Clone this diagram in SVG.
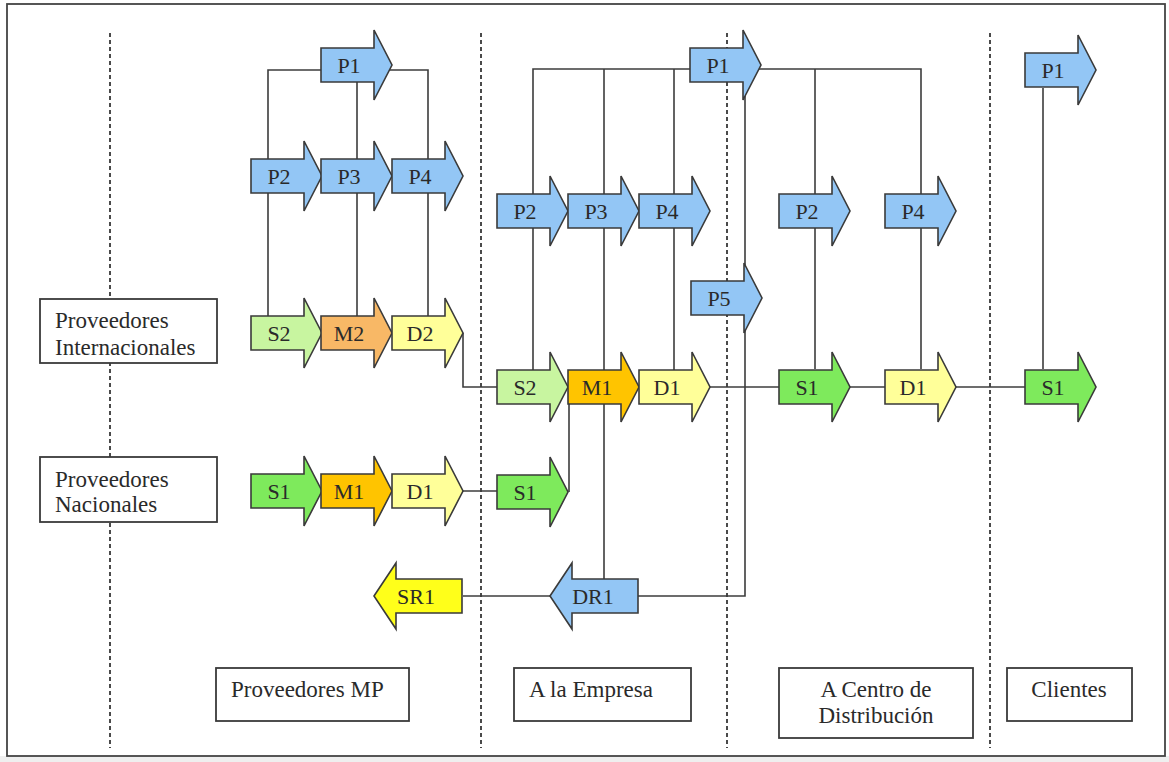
<svg xmlns="http://www.w3.org/2000/svg" xmlns:xlink="http://www.w3.org/1999/xlink" width="1169" height="762" viewBox="0 0 1169 762">
  <style>
    .lane { stroke: #4a4a4a; stroke-width: 2; stroke-dasharray: 4 3; fill: none; }
    .wire { stroke: #3c3c3c; stroke-width: 1.6; fill: none; }
    .shape { stroke: #3a3a3a; stroke-width: 1.6; stroke-linejoin: miter; }
    .blue { fill: #93c6f5; }
    .pale { fill: #c8f5a0; }
    .green { fill: #7eea5c; }
    .orange { fill: #f8b866; }
    .gold { fill: #ffc400; }
    .cream { fill: #ffff99; }
    .yellow { fill: #ffff1a; }
    .lbl { font-family: "Liberation Serif", "DejaVu Serif", serif; font-size: 22px; fill: #2a2a2a; text-anchor: middle; }
    .box { fill: #ffffff; stroke: #3a3a3a; stroke-width: 1.8; }
    .cap { font-family: "Liberation Serif", "DejaVu Serif", serif; font-size: 23px; fill: #2a2a2a; }
  </style>
  <defs>
    <!-- right-pointing block arrow, origin at body left / vertical centre -->
    <path id="ar" class="shape" d="M0,-17 H53 V-35 L71,0 L53,35 V17 H0 Z"/>
    <!-- left-pointing block arrow, origin at tip -->
    <path id="al" class="shape" d="M0,0 L22,-33 V-17 H88 V17 H22 V33 Z"/>
  </defs>

  <!-- frame -->
  <rect x="0" y="0" width="1169" height="762" fill="#ffffff"/>
  <rect x="0" y="756" width="1169" height="6" fill="#efefef"/>
  <rect x="7" y="4" width="1158" height="752" fill="none" stroke="#444" stroke-width="1.8"/>

  <!-- swimlane separators -->
  <g id="lanes">
    <line class="lane" x1="110" y1="33" x2="110" y2="748"/>
    <line class="lane" x1="481" y1="33" x2="481" y2="748"/>
    <line class="lane" x1="727" y1="33" x2="727" y2="748"/>
    <line class="lane" x1="990" y1="33" x2="990" y2="748"/>
  </g>

  <!-- connectors -->
  <g id="connectors">
    <!-- Proveedores MP -->
    <polyline class="wire" points="268,317 268,70 428,70 428,317"/>
    <line class="wire" x1="357" y1="70" x2="357" y2="317"/>
    <polyline class="wire" points="463,333 463,387 497,387"/>
    <line class="wire" x1="463" y1="491" x2="497" y2="491"/>
    <!-- A la Empresa -->
    <polyline class="wire" points="533,370 533,69 921,69 921,369"/>
    <line class="wire" x1="604" y1="69" x2="604" y2="579"/>
    <line class="wire" x1="674" y1="69" x2="674" y2="370"/>
    <line class="wire" x1="569" y1="404" x2="569" y2="492"/>
    <polyline class="wire" points="745,65 745,596 638,596"/>
    <line class="wire" x1="550" y1="596" x2="463" y2="596"/>
    <!-- A Centro de Distribución -->
    <line class="wire" x1="815" y1="69" x2="815" y2="369"/>
    <line class="wire" x1="710" y1="387" x2="1025" y2="387"/>
    <!-- Clientes -->
    <line class="wire" x1="1043" y1="88" x2="1043" y2="369"/>
  </g>

  <!-- Proveedores MP -->
  <g id="mp-p1" transform="translate(321,65)"><use xlink:href="#ar" class="blue"/><text class="lbl" x="28" y="7.5">P1</text></g>
  <g id="mp-p2" transform="translate(251,176)"><use xlink:href="#ar" class="blue"/><text class="lbl" x="28" y="7.5">P2</text></g>
  <g id="mp-p3" transform="translate(321,176)"><use xlink:href="#ar" class="blue"/><text class="lbl" x="28" y="7.5">P3</text></g>
  <g id="mp-p4" transform="translate(392,176)"><use xlink:href="#ar" class="blue"/><text class="lbl" x="28" y="7.5">P4</text></g>
  <g id="mp-s2" transform="translate(251,333)"><use xlink:href="#ar" class="pale"/><text class="lbl" x="28" y="7.5">S2</text></g>
  <g id="mp-m2" transform="translate(321,333)"><use xlink:href="#ar" class="orange"/><text class="lbl" x="28" y="7.5">M2</text></g>
  <g id="mp-d2" transform="translate(392,333)"><use xlink:href="#ar" class="cream"/><text class="lbl" x="28" y="7.5">D2</text></g>
  <g id="mp-s1" transform="translate(251,491)"><use xlink:href="#ar" class="green"/><text class="lbl" x="28" y="7.5">S1</text></g>
  <g id="mp-m1" transform="translate(321,491)"><use xlink:href="#ar" class="gold"/><text class="lbl" x="28" y="7.5">M1</text></g>
  <g id="mp-d1" transform="translate(392,491)"><use xlink:href="#ar" class="cream"/><text class="lbl" x="28" y="7.5">D1</text></g>
  <g id="mp-sr1" transform="translate(374,596)"><use xlink:href="#al" class="yellow"/><text class="lbl" x="42" y="7.5">SR1</text></g>

  <!-- A la Empresa -->
  <g id="em-p1" transform="translate(690,65)"><use xlink:href="#ar" class="blue"/><text class="lbl" x="28" y="7.5">P1</text></g>
  <g id="em-p2" transform="translate(497,211)"><use xlink:href="#ar" class="blue"/><text class="lbl" x="28" y="7.5">P2</text></g>
  <g id="em-p3" transform="translate(568,211)"><use xlink:href="#ar" class="blue"/><text class="lbl" x="28" y="7.5">P3</text></g>
  <g id="em-p4" transform="translate(639,211)"><use xlink:href="#ar" class="blue"/><text class="lbl" x="28" y="7.5">P4</text></g>
  <g id="em-p5" transform="translate(691,298)"><use xlink:href="#ar" class="blue"/><text class="lbl" x="28" y="7.5">P5</text></g>
  <g id="em-s2" transform="translate(497,387)"><use xlink:href="#ar" class="pale"/><text class="lbl" x="28" y="7.5">S2</text></g>
  <g id="em-m1" transform="translate(568,387)"><use xlink:href="#ar" class="gold"/><text class="lbl" x="29" y="7.5">M1</text></g>
  <g id="em-d1" transform="translate(639,387)"><use xlink:href="#ar" class="cream"/><text class="lbl" x="28" y="7.5">D1</text></g>
  <g id="em-s1" transform="translate(497,492)"><use xlink:href="#ar" class="green"/><text class="lbl" x="28" y="7.5">S1</text></g>
  <g id="em-dr1" transform="translate(550,596)"><use xlink:href="#al" class="blue"/><text class="lbl" x="43" y="7.5">DR1</text></g>

  <!-- A Centro de Distribución -->
  <g id="cd-p2" transform="translate(779,211)"><use xlink:href="#ar" class="blue"/><text class="lbl" x="28" y="7.5">P2</text></g>
  <g id="cd-p4" transform="translate(885,211)"><use xlink:href="#ar" class="blue"/><text class="lbl" x="28" y="7.5">P4</text></g>
  <g id="cd-s1" transform="translate(779,387)"><use xlink:href="#ar" class="green"/><text class="lbl" x="28" y="7.5">S1</text></g>
  <g id="cd-d1" transform="translate(885,387)"><use xlink:href="#ar" class="cream"/><text class="lbl" x="28" y="7.5">D1</text></g>

  <!-- Clientes -->
  <g id="cl-p1" transform="translate(1025,70)"><use xlink:href="#ar" class="blue"/><text class="lbl" x="28" y="7.5">P1</text></g>
  <g id="cl-s1" transform="translate(1025,387)"><use xlink:href="#ar" class="green"/><text class="lbl" x="28" y="7.5">S1</text></g>

  <!-- row captions -->
  <g id="row-internacionales">
    <rect class="box" x="40" y="299" width="177" height="64"/>
    <text class="cap" x="55" y="328">Proveedores</text>
    <text class="cap" x="55" y="355">Internacionales</text>
  </g>
  <g id="row-nacionales">
    <rect class="box" x="40" y="457" width="177" height="65"/>
    <text class="cap" x="55" y="487">Proveedores</text>
    <text class="cap" x="55" y="512">Nacionales</text>
  </g>

  <!-- lane captions -->
  <g id="lane-mp">
    <rect class="box" x="216" y="668" width="193" height="53"/>
    <text class="cap" x="231" y="697">Proveedores MP</text>
  </g>
  <g id="lane-empresa">
    <rect class="box" x="514" y="668" width="177" height="53"/>
    <text class="cap" x="529" y="697">A la Empresa</text>
  </g>
  <g id="lane-centro">
    <rect class="box" x="779" y="668" width="194" height="70"/>
    <text class="cap" x="876" y="697" text-anchor="middle">A Centro de</text>
    <text class="cap" x="876" y="723" text-anchor="middle">Distribución</text>
  </g>
  <g id="lane-clientes">
    <rect class="box" x="1007" y="668" width="125" height="53"/>
    <text class="cap" x="1069" y="697" text-anchor="middle">Clientes</text>
  </g>
</svg>
